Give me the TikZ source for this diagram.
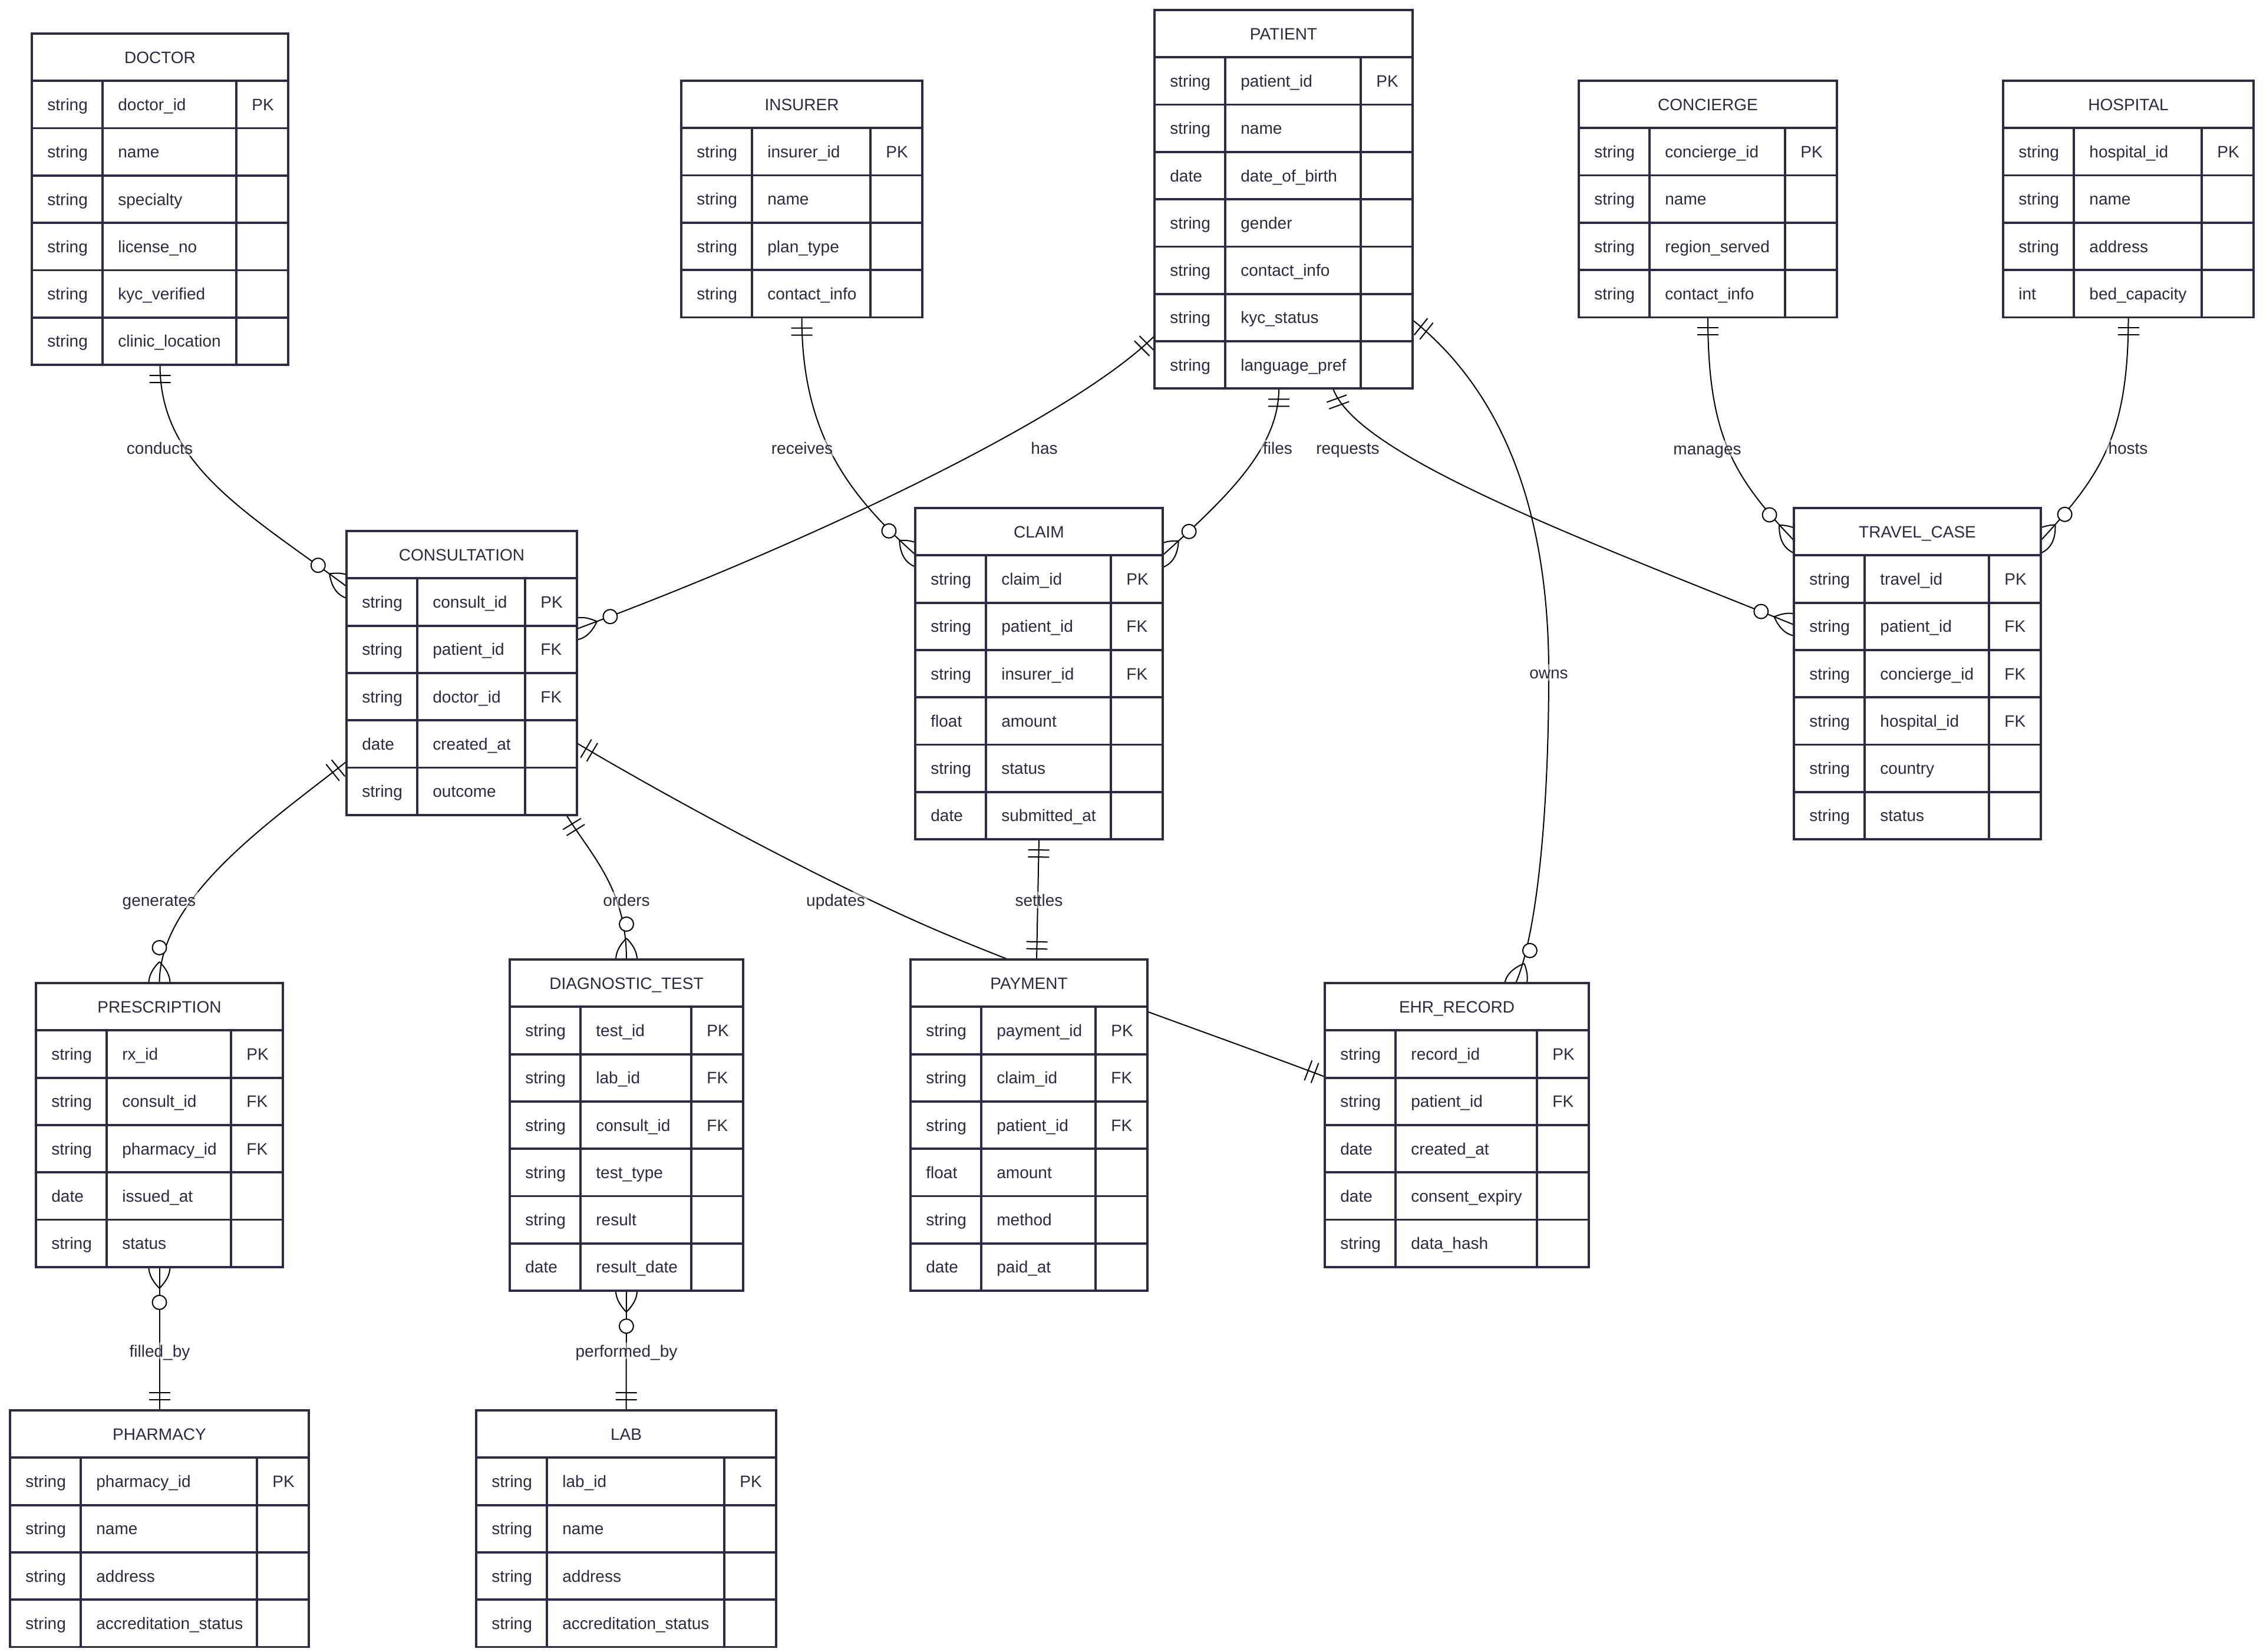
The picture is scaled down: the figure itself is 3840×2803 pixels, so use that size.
\documentclass[tikz,border=0pt]{standalone}
\usepackage{fontspec}
\setmainfont{Liberation Sans}
\usetikzlibrary{calc,decorations.markings}
\pgfdeclarelayer{bg}
\pgfsetlayers{bg,main}
\definecolor{navy}{HTML}{2C2A45}
\definecolor{ink}{HTML}{2B2A44}

\tikzset{
  tbl/.style={draw=navy, fill=white, line width=1.9pt, inner sep=0pt, outer sep=0pt},
  tline/.style={draw=navy, line width=1.9pt},
  txt/.style={text=ink, font=\fontsize{14}{17}\selectfont, inner sep=0pt, text height=10pt, text depth=0pt},
  lbl/.style={txt, fill=white, fill opacity=0.5, text opacity=1, inner sep=2pt},
  conn/.style={draw=black, line width=1pt},
  oneA/.style={postaction={decorate, decoration={markings, mark=at position 0 with {\draw[line width=1pt, black] (9pt,-9pt)--(9pt,9pt) (15pt,-9pt)--(15pt,9pt);}}}},
  oneB/.style={postaction={decorate, decoration={markings, mark=at position 0.9999 with {\draw[line width=1pt, black] (-9pt,-9pt)--(-9pt,9pt) (-15pt,-9pt)--(-15pt,9pt);}}}},
  manyA/.style={postaction={decorate, decoration={markings, mark=at position 0 with {\draw[line width=1pt, black] (-18pt,0pt) .. controls (-6pt,-12pt) and (6pt,-12pt) .. (18pt,0pt) .. controls (6pt,12pt) and (-6pt,12pt) .. (-18pt,0pt); \draw[line width=1pt, black, fill=white] (30pt,0pt) circle (6pt);}}}},
  manyB/.style={postaction={decorate, decoration={markings, mark=at position 0.9999 with {\draw[line width=1pt, black] (-18pt,0pt) .. controls (-6pt,-12pt) and (6pt,-12pt) .. (18pt,0pt) .. controls (6pt,12pt) and (-6pt,12pt) .. (-18pt,0pt); \draw[line width=1pt, black, fill=white] (-30pt,0pt) circle (6pt);}}}},
}

% #1 name, #2 title, #3 left, #4 top, #5 type width, #6 name width, #7 key width, #8 rows, #9 list
\newcommand{\erTable}[9]{%
  \pgfmathsetmacro{\erL}{#3}%
  \pgfmathsetmacro{\erT}{#4}%
  \pgfmathsetmacro{\erW}{#5+#6+#7}%
  \pgfmathsetmacro{\erH}{(#8+1)*80.3}%
  \pgfmathsetmacro{\erA}{#3+#5}%
  \pgfmathsetmacro{\erB}{#3+#5+#6}%
  \node[tbl, anchor=north west, minimum width=\erW*0.5pt, minimum height=\erH*0.5pt] (#1) at (\erL,\erT) {};
  \node[txt] (#1-title) at ({\erL+\erW/2},{\erT+40.15}) {#2};
  \foreach \ty/\nm/\ky [count=\i] in {#9} {
    \pgfmathsetmacro{\erR}{\erT+\i*80.3}
    \draw[tline] (\erL,\erR) -- ({\erL+\erW},\erR);
    \node[txt, anchor=west] (#1-\i-type) at ({\erL+26},{\erR+40.15}) {\ty};
    \node[txt, anchor=west] (#1-\i-name) at ({\erA+26},{\erR+40.15}) {\nm};
    \node[txt, anchor=west] (#1-\i-key) at ({\erB+26},{\erR+40.15}) {\ky};
  }
  \draw[tline] (\erA,{\erT+80.3}) -- (\erA,{\erT+\erH});
  \draw[tline] (\erB,{\erT+80.3}) -- (\erB,{\erT+\erH});
}

\begin{document}
\begin{tikzpicture}[x=0.5pt, y=-0.5pt]
\useasboundingbox (0,0) rectangle (3840,2803);

\erTable{doctor}{DOCTOR}{54}{57}{120}{227}{88}{6}{string/doctor\_id/PK, string/name/{}, string/specialty/{}, string/license\_no/{}, string/kyc\_verified/{}, string/clinic\_location/{}}
\erTable{insurer}{INSURER}{1156}{137}{120}{201}{88}{4}{string/insurer\_id/PK, string/name/{}, string/plan\_type/{}, string/contact\_info/{}}
\erTable{patient}{PATIENT}{1959}{17}{120}{230}{88}{7}{string/patient\_id/PK, string/name/{}, date/date\_of\_birth/{}, string/gender/{}, string/contact\_info/{}, string/kyc\_status/{}, string/language\_pref/{}}
\erTable{concierge}{CONCIERGE}{2679}{137}{120}{230}{88}{4}{string/concierge\_id/PK, string/name/{}, string/region\_served/{}, string/contact\_info/{}}
\erTable{hospital}{HOSPITAL}{3399}{137}{120}{217}{88}{4}{string/hospital\_id/PK, string/name/{}, string/address/{}, int/bed\_capacity/{}}
\erTable{consultation}{CONSULTATION}{588}{901}{120}{183}{88}{5}{string/consult\_id/PK, string/patient\_id/FK, string/doctor\_id/FK, date/created\_at/{}, string/outcome/{}}
\erTable{claim}{CLAIM}{1553}{862}{120}{212}{88}{6}{string/claim\_id/PK, string/patient\_id/FK, string/insurer\_id/FK, float/amount/{}, string/status/{}, date/submitted\_at/{}}
\erTable{travel}{TRAVEL\_CASE}{3044}{862}{120}{211}{88}{6}{string/travel\_id/PK, string/patient\_id/FK, string/concierge\_id/FK, string/hospital\_id/FK, string/country/{}, string/status/{}}
\erTable{prescription}{PRESCRIPTION}{61}{1668}{120}{211}{88}{5}{string/rx\_id/PK, string/consult\_id/FK, string/pharmacy\_id/FK, date/issued\_at/{}, string/status/{}}
\erTable{diag}{DIAGNOSTIC\_TEST}{865}{1628}{120}{188}{88}{6}{string/test\_id/PK, string/lab\_id/FK, string/consult\_id/FK, string/test\_type/{}, string/result/{}, date/result\_date/{}}
\erTable{payment}{PAYMENT}{1545}{1628}{120}{194}{88}{6}{string/payment\_id/PK, string/claim\_id/FK, string/patient\_id/FK, float/amount/{}, string/method/{}, date/paid\_at/{}}
\erTable{ehr}{EHR\_RECORD}{2248}{1668}{120}{240}{88}{5}{string/record\_id/PK, string/patient\_id/FK, date/created\_at/{}, date/consent\_expiry/{}, string/data\_hash/{}}
\erTable{pharmacy}{PHARMACY}{17}{2393}{120}{299}{88}{4}{string/pharmacy\_id/PK, string/name/{}, string/address/{}, string/accreditation\_status/{}}
\erTable{lab}{LAB}{808}{2393}{120}{301}{88}{4}{string/lab\_id/PK, string/name/{}, string/address/{}, string/accreditation\_status/{}}

\begin{pgfonlayer}{bg}
\fill[white] (0,0) rectangle (3840,2803);
% conducts
\draw[conn, oneA, manyB] (doctor.south) .. controls +(0,171) and +(-168,-125) .. ($(consultation.north west)+(0,94)$);
% receives
\draw[conn, oneA, manyB] (insurer.south) .. controls +(0,200) and +(-111,-100) .. ($(claim.north west)+(0,79)$);
% has
\draw[conn, oneA, manyB] ($(patient.north west)+(0,553)$) .. controls +(-141,141) and +(374,-138) .. ($(consultation.north east)+(0,166)$);
% files
\draw[conn, oneA, manyB] ($(patient.south west)+(211,0)$) .. controls +(0,100) and +(111,-100) .. ($(claim.north east)+(0,80)$);
% requests
\draw[conn, oneA, manyB] ($(patient.south west)+(303,0)$) .. controls +(41,113) and +(-372,-150) .. ($(travel.north west)+(0,198)$);
% owns
\coordinate (ownsmid) at (2628,1141);
\draw[conn, oneA, manyB] ($(patient.north east)+(0,526)$) .. controls +(150,120) and +(0,-280) .. (ownsmid) .. controls +(0,260) and +(33,-76) .. ($(ehr.north west)+(324,0)$);
% manages
\draw[conn, oneA, manyB] (concierge.south) .. controls +(0,200) and +(-103,-108) .. ($(travel.north west)+(0,55)$);
% hosts
\draw[conn, oneA, manyB] (hospital.south) .. controls +(0,200) and +(102,-111) .. ($(travel.north east)+(0,55)$);
% generates
\draw[conn, oneA, manyB] ($(consultation.north west)+(0,391)$) .. controls +(-117,94) and +(0,-150) .. (prescription.north);
% orders
\draw[conn, oneA, manyB] ($(consultation.south west)+(373,0)$) .. controls +(42,68) and +(0,-120) .. (diag.north);
% updates
\coordinate (updmid) at (1600,1583);
\draw[conn, oneA, oneB] ($(consultation.north east)+(0,360)$) .. controls +(172,102) and +(-184,-78) .. (updmid) .. controls +(184,78) and +(-187,-71) .. ($(ehr.north west)+(0,159)$);
% settles
\draw[conn, oneA, oneB] ($(claim.south west)+(210,0)$) -- ($(payment.north west)+(214,0)$);
% filled_by
\draw[conn, manyA, oneB] (prescription.south) -- (pharmacy.north);
% performed_by
\draw[conn, manyA, oneB] (diag.south) -- (lab.north);
\end{pgfonlayer}

\node[lbl] (l-conducts) at (271,760) {conducts};
\node[lbl] (l-receives) at (1361,760) {receives};
\node[lbl] (l-has) at (1772,760) {has};
\node[lbl] (l-files) at (2168,760) {files};
\node[lbl] (l-requests) at (2287,760) {requests};
\node[lbl] (l-manages) at (2897,761) {manages};
\node[lbl] (l-hosts) at (3611,760) {hosts};
\node[lbl] (l-owns) at (2628,1141) {owns};
\node[lbl] (l-generates) at (270,1527) {generates};
\node[lbl] (l-orders) at (1063,1527) {orders};
\node[lbl] (l-updates) at (1418,1527) {updates};
\node[lbl] (l-settles) at (1763,1527) {settles};
\node[lbl] (l-filled) at (271,2292) {filled\_by};
\node[lbl] (l-performed) at (1063,2292) {performed\_by};
\end{tikzpicture}
\end{document}
